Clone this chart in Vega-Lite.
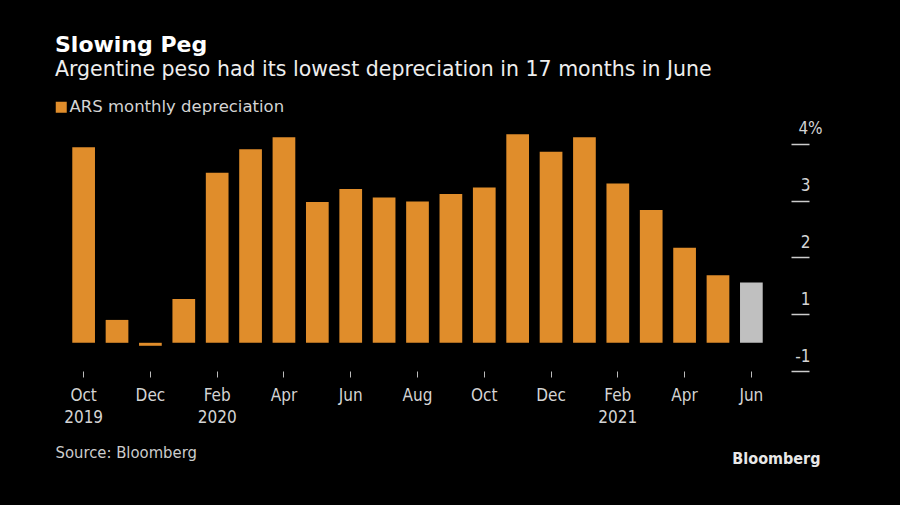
{
  "$schema": "https://vega.github.io/schema/vega-lite/v6.json",
  "autosize": {"type": "none"},
  "width": 747,
  "height": 241,
  "padding": {"left": 44, "top": 130, "right": 109, "bottom": 134},
  "background": "#000000",
  "config": {
    "view": {"stroke": null},
    "font": "DejaVu Sans Condensed, Liberation Sans Narrow, DejaVu Sans, sans-serif"
  },
  "title": {
    "text": "Slowing Peg",
    "subtitle": "Argentine peso had its lowest depreciation in 17 months in June",
    "anchor": "start",
    "frame": "group",
    "dx": 11,
    "font": "DejaVu Sans",
    "subtitleFont": "DejaVu Sans",
    "fontSize": 22,
    "fontWeight": "bold",
    "color": "#ffffff",
    "subtitleFontSize": 20.5,
    "subtitleColor": "#eeeeee",
    "subtitlePadding": 3,
    "offset": 18
  },
  "data": {
    "values": [
      {"month": "Oct 2019", "value": 3.93, "series": "ARS monthly depreciation"},
      {"month": "Nov 2019", "value": 0.46, "series": "ARS monthly depreciation"},
      {"month": "Dec 2019", "value": -0.06, "series": "ARS monthly depreciation"},
      {"month": "Jan 2020", "value": 0.88, "series": "ARS monthly depreciation"},
      {"month": "Feb 2020", "value": 3.42, "series": "ARS monthly depreciation"},
      {"month": "Mar 2020", "value": 3.89, "series": "ARS monthly depreciation"},
      {"month": "Apr 2020", "value": 4.13, "series": "ARS monthly depreciation"},
      {"month": "May 2020", "value": 2.83, "series": "ARS monthly depreciation"},
      {"month": "Jun 2020", "value": 3.09, "series": "ARS monthly depreciation"},
      {"month": "Jul 2020", "value": 2.92, "series": "ARS monthly depreciation"},
      {"month": "Aug 2020", "value": 2.84, "series": "ARS monthly depreciation"},
      {"month": "Sep 2020", "value": 2.99, "series": "ARS monthly depreciation"},
      {"month": "Oct 2020", "value": 3.12, "series": "ARS monthly depreciation"},
      {"month": "Nov 2020", "value": 4.19, "series": "ARS monthly depreciation"},
      {"month": "Dec 2020", "value": 3.84, "series": "ARS monthly depreciation"},
      {"month": "Jan 2021", "value": 4.13, "series": "ARS monthly depreciation"},
      {"month": "Feb 2021", "value": 3.2, "series": "ARS monthly depreciation"},
      {"month": "Mar 2021", "value": 2.67, "series": "ARS monthly depreciation"},
      {"month": "Apr 2021", "value": 1.91, "series": "ARS monthly depreciation"},
      {"month": "May 2021", "value": 1.36, "series": "ARS monthly depreciation"},
      {"month": "Jun 2021", "value": 1.21, "series": "ARS monthly depreciation"}
    ]
  },
  "mark": {"type": "bar"},
  "encoding": {
    "x": {
      "field": "month",
      "type": "ordinal",
      "sort": null,
      "scale": {"paddingInner": 0.32, "paddingOuter": 0.847},
      "axis": {
        "values": ["Oct 2019", "Dec 2019", "Feb 2020", "Apr 2020", "Jun 2020", "Aug 2020", "Oct 2020", "Dec 2020", "Feb 2021", "Apr 2021", "Jun 2021"],
        "labelExpr": "indexof(['Oct 2019','Feb 2020','Feb 2021'], datum.value) >= 0 ? split(datum.value, ' ') : split(datum.value, ' ')[0]",
        "labelAngle": 0,
        "labelFontSize": 17,
        "labelColor": "#d4d4d4",
        "labelLineHeight": 22,
        "labelPadding": 10,
        "labelBaseline": "top",
        "tickSize": 6,
        "tickColor": "#bbbbbb",
        "tickWidth": 1,
        "domain": false,
        "title": "Source: Bloomberg",
        "titleX": 11,
        "titleY": 86,
        "titleAnchor": null,
        "titleAlign": "left",
        "titleBaseline": "alphabetic",
        "titleFontSize": 16.5,
        "titleFontWeight": "normal",
        "titleColor": "#cccccc"
      }
    },
    "y": {
      "field": "value",
      "type": "quantitative",
      "scale": {"domain": [-0.5668, 4.2774], "nice": false, "zero": false},
      "axis": {
        "orient": "right",
        "values": [4, 2.8583, 1.7166, 0.5749, -0.5668],
        "labelExpr": "datum.value == 4 ? '4%' : datum.value > 2.5 ? '3' : datum.value > 1.5 ? '2' : datum.value > 0 ? '1' : '-1'",
        "labelAlign": {"condition": {"test": "datum.value == 4", "value": "center"}, "value": "right"},
        "labelBaseline": "alphabetic",
        "labelOffset": -10,
        "labelPadding": 1,
        "labelFontSize": 17,
        "labelColor": "#d4d4d4",
        "tickSize": 18,
        "tickColor": "#cccccc",
        "tickWidth": 1.5,
        "grid": false,
        "domain": false,
        "title": "Bloomberg",
        "titleAngle": 0,
        "titleX": 29,
        "titleY": 333,
        "titleAlign": "right",
        "titleBaseline": "alphabetic",
        "titleFontSize": 16,
        "titleFontWeight": "bold",
        "titleColor": "#e8e8e8"
      }
    },
    "color": {
      "condition": {"test": "datum.month == 'Jun 2021'", "value": "#c0c0c0"},
      "field": "series",
      "type": "nominal",
      "scale": {"range": ["#e08d2b"]},
      "legend": {
        "title": null,
        "orient": "none",
        "legendX": 9,
        "legendY": -31,
        "symbolType": "square",
        "symbolSize": 121,
        "symbolStrokeWidth": 0,
        "labelFont": "DejaVu Sans",
        "labelFontSize": 16.5,
        "labelColor": "#d4d4d4",
        "labelOffset": 0,
        "labelLimit": 400,
        "padding": 0
      }
    }
  }
}
